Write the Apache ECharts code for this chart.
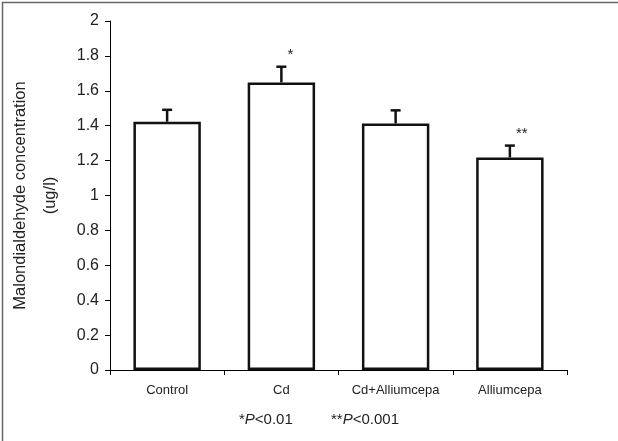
<!DOCTYPE html>
<html><head><meta charset="utf-8">
<script src="https://cdn.jsdelivr.net/npm/echarts@6/dist/echarts.min.js"></script>
<style>html,body{margin:0;padding:0;background:#fff}#c{width:618px;height:441px}</style>
</head><body><div id="c"></div>
<script>
const categories = ['Control', 'Cd', 'Cd+Alliumcepa', 'Alliumcepa'];
const means = [1.423, 1.648, 1.413, 1.218];
const errors = [0.068, 0.09, 0.075, 0.068];
const marks = ['', '*', '', '**'];
const yTicks = [0, 0.2, 0.4, 0.6, 0.8, 1, 1.2, 1.4, 1.6, 1.8, 2];

const FONT = 'Liberation Sans, Arial, sans-serif';
const chart = echarts.init(document.getElementById('c'), null, {renderer: 'canvas'});
chart.setOption({
  animation: false,
  backgroundColor: '#fff',
  grid: {left: 110, right: 51, top: 21, bottom: 71, outerBoundsMode: 'none', containLabel: false},
  xAxis: {
    type: 'category', data: categories, boundaryGap: true,
    axisLine: {lineStyle: {color: '#000', width: 1}},
    axisTick: {show: true, length: 5, lineStyle: {color: '#000'}},
    axisLabel: {color: '#222', fontFamily: FONT, fontSize: 13, margin: 14}
  },
  yAxis: {
    type: 'value', min: yTicks[0], max: yTicks[yTicks.length - 1], interval: 0.2,
    name: 'Malondialdehyde concentration\n(ug/l)', nameLocation: 'middle', nameGap: 45,
    nameTextStyle: {color: '#222', fontFamily: FONT, fontSize: 16.5, lineHeight: 30},
    axisLine: {show: true, lineStyle: {color: '#000', width: 1}},
    axisTick: {show: true, length: 5, lineStyle: {color: '#000'}},
    splitLine: {show: false},
    axisLabel: {color: '#222', fontFamily: FONT, fontSize: 16, margin: 11}
  },
  series: [
    {
      type: 'bar', data: means, barWidth: '59%',
      itemStyle: {color: '#fff', borderColor: '#111', borderWidth: 2.5}
    },
    {
      type: 'custom',
      data: means.map((m, i) => [i, m, m + errors[i]]),
      renderItem: function (params, api) {
        const x = api.coord([api.value(0), 0])[0];
        const y0 = api.coord([api.value(0), api.value(1)])[1];
        const y1 = api.coord([api.value(0), api.value(2)])[1];
        const st = {stroke: '#111', lineWidth: 2.5};
        const children = [
          {type: 'line', shape: {x1: x, y1: y0, x2: x, y2: y1}, style: st},
          {type: 'line', shape: {x1: x - 5, y1: y1, x2: x + 5, y2: y1}, style: st}
        ];
        const mk = marks[params.dataIndex];
        if (mk) {
          children.push({type: 'text', x: x + 6, y: y1 - 12,
            style: {text: mk, fill: '#222', font: '15px ' + FONT, align: 'left', verticalAlign: 'middle'}});
        }
        return {type: 'group', children: children};
      },
      z: 5
    }
  ],
  graphic: [
    {type: 'rect', left: 0, top: 0, shape: {x: 0.75, y: 0.75, width: 616.5, height: 439.5},
      style: {fill: 'none', stroke: '#666', lineWidth: 1.5}, silent: true},
    {type: 'text', left: 239, top: 412,
      style: {text: '*{i|P}<0.01', font: '15px ' + FONT, fill: '#222',
        rich: {i: {fontStyle: 'italic', fontFamily: FONT, fontSize: 15, fill: '#222'}}}},
    {type: 'text', left: 331, top: 412,
      style: {text: '**{i|P}<0.001', font: '15px ' + FONT, fill: '#222',
        rich: {i: {fontStyle: 'italic', fontFamily: FONT, fontSize: 15, fill: '#222'}}}}
  ]
});
</script></body></html>
